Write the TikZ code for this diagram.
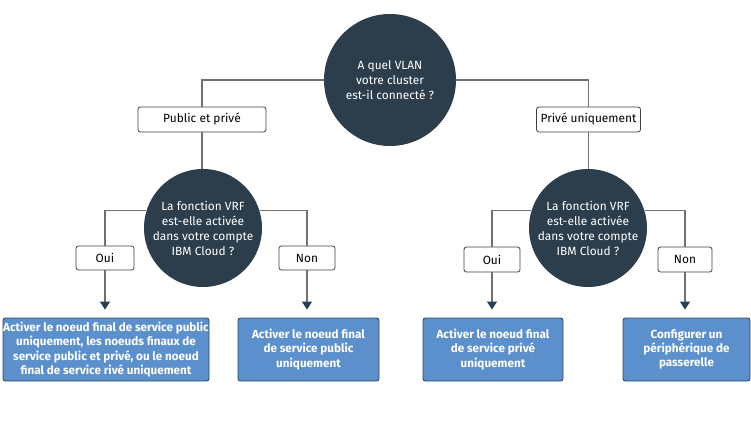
\documentclass[tikz,border=0pt]{standalone}
\usepackage{fontspec}
\setmainfont{Fira Sans}
\usetikzlibrary{arrows.meta}
\definecolor{dark}{HTML}{2C3E4B}
\definecolor{bluefill}{HTML}{5B90CC}
\definecolor{blueedge}{HTML}{2E4866}
\definecolor{linec}{HTML}{707070}
\tikzset{
  q/.style={circle,fill=dark,text=white,align=center,inner sep=0pt,font=\fontsize{11.9}{15}\selectfont},
  lab/.style={draw=black!75,fill=white,rounded corners=2.5pt,line width=0.8pt,inner sep=0pt,font=\fontsize{11.9}{13}\selectfont},
  res/.style={draw=blueedge,fill=bluefill,text=white,rounded corners=2.5pt,line width=0.9pt,align=center,inner sep=0pt,font=\bfseries\fontsize{11.7}{14.3}\selectfont},
  conn/.style={draw=linec,line width=1.1pt},
  arr/.style={conn,-{Triangle[length=8pt,width=10pt,color=dark]},shorten >=8pt}
}
\begin{document}
\begin{tikzpicture}[x=1pt,y=-1pt]
\useasboundingbox (0,0) rectangle (751,430);
\node[q,minimum size=132pt] (q1) at (390,80) {A quel VLAN\\votre cluster\\est-il connecté ?};
\node[lab,minimum width=128pt,minimum height=25pt] (p1) at (202,119.5) {Public et privé};
\node[lab,minimum width=104pt,minimum height=25pt] (p2) at (588.5,119.5) {Privé uniquement};
\node[q,minimum size=118pt] (q2) at (203,228) {La fonction VRF\\est-elle activée\\dans votre compte\\IBM Cloud ?};
\node[q,minimum size=118pt] (q3) at (588,228) {La fonction VRF\\est-elle activée\\dans votre compte\\IBM Cloud ?};
\node[lab,minimum width=58pt,minimum height=24pt] (o1) at (105,258) {Oui};
\node[lab,minimum width=56pt,minimum height=24pt] (n1) at (307,258) {Non};
\node[lab,minimum width=56pt,minimum height=25pt] (o2) at (492,259.5) {Oui};
\node[lab,minimum width=54pt,minimum height=25pt] (n2) at (685,259.5) {Non};
\node[res,minimum width=206pt,minimum height=63pt] (b1) at (106,349.5) {Activer le noeud final de service public\\uniquement, les noeuds finaux de\\service public et privé, ou le noeud\\final de service rivé uniquement};
\node[res,minimum width=141pt,minimum height=63pt] (b2) at (308.5,349.5) {Activer le noeud final\\de service public\\uniquement};
\node[res,minimum width=140pt,minimum height=63pt] (b3) at (493,349.5) {Activer le noeud final\\de service privé\\uniquement};
\node[res,minimum width=127pt,minimum height=63pt] (b4) at (686.5,349.5) {Configurer un\\périphérique de\\passerelle};
\draw[conn] (q1.west) -| (p1.north);
\draw[conn] (q1.east) -| (p2.north);
\draw[conn] (p1.south) -- (p1.south |- q2.north);
\draw[conn] (p2.south) -- (p2.south |- q3.north);
\draw[conn] (q2.163) -| (o1.north);
\draw[conn] (q2.17) -| (n1.north);
\draw[conn] (q3.163) -| (o2.north);
\draw[conn] (q3.17) -| (n2.north);
\draw[arr] (o1.south) -- (o1.south |- b1.north);
\draw[arr] (n1.south) -- (n1.south |- b2.north);
\draw[arr] (o2.south) -- (o2.south |- b3.north);
\draw[arr] (n2.south) -- (n2.south |- b4.north);
\end{tikzpicture}
\end{document}
